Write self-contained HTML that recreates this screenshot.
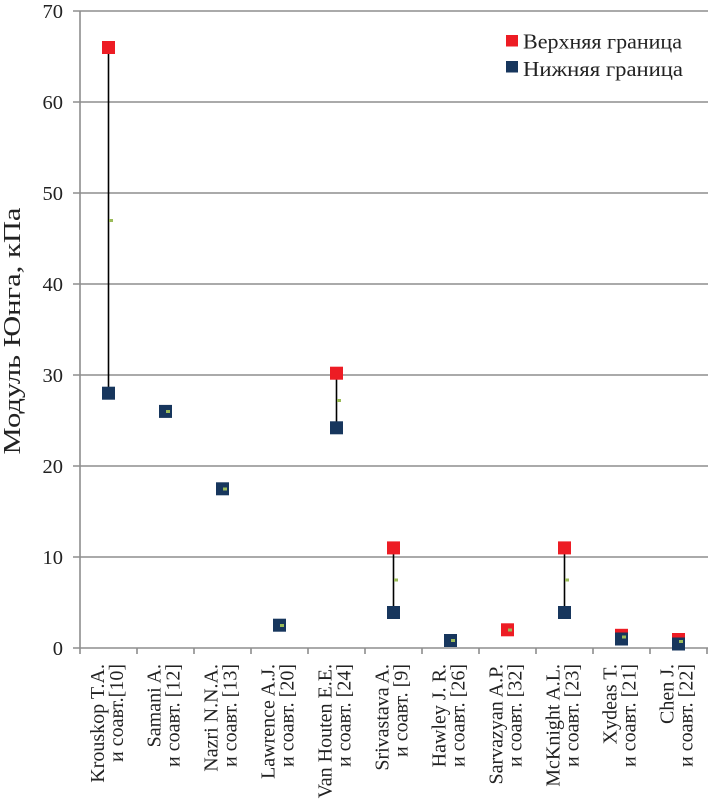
<!DOCTYPE html>
<html><head><meta charset="utf-8"><style>
html,body{margin:0;padding:0;background:#fff;}
svg{display:block;}
text{font-family:"Liberation Serif",serif;}
</style></head><body>
<svg width="709" height="800" viewBox="0 0 709 800" xmlns="http://www.w3.org/2000/svg" font-family="Liberation Serif, serif">
<g stroke="#8e8e8e" stroke-width="1.6" fill="none">
<line x1="73" y1="11" x2="708" y2="11"/>
<line x1="73" y1="102" x2="708" y2="102"/>
<line x1="73" y1="193" x2="708" y2="193"/>
<line x1="73" y1="284" x2="708" y2="284"/>
<line x1="73" y1="375" x2="708" y2="375"/>
<line x1="73" y1="466" x2="708" y2="466"/>
<line x1="73" y1="557" x2="708" y2="557"/>
<line x1="73" y1="648" x2="708" y2="648"/>
<line x1="80" y1="11" x2="80" y2="654"/>
<line x1="137" y1="648" x2="137" y2="654"/>
<line x1="194" y1="648" x2="194" y2="654"/>
<line x1="251" y1="648" x2="251" y2="654"/>
<line x1="308" y1="648" x2="308" y2="654"/>
<line x1="365" y1="648" x2="365" y2="654"/>
<line x1="422" y1="648" x2="422" y2="654"/>
<line x1="479" y1="648" x2="479" y2="654"/>
<line x1="536" y1="648" x2="536" y2="654"/>
<line x1="593" y1="648" x2="593" y2="654"/>
<line x1="650" y1="648" x2="650" y2="654"/>
<line x1="707" y1="648" x2="707" y2="654"/>
</g>
<g font-size="20.5" fill="#222" text-anchor="end" font-family="Liberation Serif, serif">
<text x="63" y="18">70</text>
<text x="63" y="109">60</text>
<text x="63" y="200">50</text>
<text x="63" y="291">40</text>
<text x="63" y="382">30</text>
<text x="63" y="473">20</text>
<text x="63" y="564">10</text>
<text x="63" y="655">0</text>
</g>
<text transform="translate(20,331) rotate(-90)" text-anchor="middle" font-size="24" fill="#222" font-family="Liberation Serif, serif" textLength="247" lengthAdjust="spacingAndGlyphs">Модуль Юнга, кПа</text>
<g stroke="#000" stroke-width="1.6">
<line x1="108.5" y1="47.4" x2="108.5" y2="393.2"/>
<line x1="336.5" y1="373.2" x2="336.5" y2="427.8"/>
<line x1="393.5" y1="547.9" x2="393.5" y2="612.5"/>
<line x1="564.5" y1="547.9" x2="564.5" y2="612.5"/>
<line x1="621.5" y1="635.3" x2="621.5" y2="639"/>
<line x1="678.5" y1="639.5" x2="678.5" y2="644"/>
</g>
<g fill="#ed1c24">
<rect x="102" y="41" width="13" height="13"/>
<rect x="330" y="366.7" width="13" height="13"/>
<rect x="387" y="541.4" width="13" height="13"/>
<rect x="501" y="623.3" width="13" height="13"/>
<rect x="558" y="541.4" width="13" height="13"/>
<rect x="615" y="628.8" width="13" height="13"/>
<rect x="672" y="633" width="13" height="13"/>
</g>
<g fill="#17365d">
<rect x="102" y="386.7" width="13" height="13"/>
<rect x="159" y="404.9" width="13" height="13"/>
<rect x="216" y="482.3" width="13" height="13"/>
<rect x="273" y="618.7" width="13" height="13"/>
<rect x="330" y="421.3" width="13" height="13"/>
<rect x="387" y="606" width="13" height="13"/>
<rect x="444" y="634" width="13" height="13"/>
<rect x="558" y="606" width="13" height="13"/>
<rect x="615" y="632.5" width="13" height="13"/>
<rect x="672" y="637.5" width="13" height="13"/>
</g>
<g fill="#9bbb59">
<rect x="109" y="219" width="4" height="3"/>
<rect x="166" y="410" width="4" height="3"/>
<rect x="223" y="487.5" width="4" height="3"/>
<rect x="280" y="624" width="4" height="3"/>
<rect x="337" y="399" width="4" height="3"/>
<rect x="394" y="578.5" width="4" height="3"/>
<rect x="451" y="639" width="4" height="3"/>
<rect x="508" y="628.5" width="4" height="3"/>
<rect x="565" y="578.5" width="4" height="3"/>
<rect x="622" y="635.5" width="4" height="3"/>
<rect x="679" y="640" width="4" height="3"/>
</g>
<rect x="506" y="35" width="12" height="11.5" fill="#ed1c24"/>
<rect x="506" y="61" width="12" height="11.5" fill="#17365d"/>
<text x="523" y="48.5" font-size="21" fill="#222" font-family="Liberation Serif, serif" textLength="159" lengthAdjust="spacingAndGlyphs">Верхняя граница</text>
<text x="523" y="76" font-size="21" fill="#222" font-family="Liberation Serif, serif" textLength="160" lengthAdjust="spacingAndGlyphs">Нижняя граница</text>
<g font-size="20" fill="#222" text-anchor="end" font-family="Liberation Serif, serif">
<text transform="translate(104,664) rotate(-90)">Krouskop T.A.</text>
<text transform="translate(123,664) rotate(-90)">и соавт.[10]</text>
<text transform="translate(160.5,664) rotate(-90)">Samani A.</text>
<text transform="translate(179.5,664) rotate(-90)">и соавт. [12]</text>
<text transform="translate(217.5,664) rotate(-90)">Nazri N.N.A.</text>
<text transform="translate(236.5,664) rotate(-90)">и соавт. [13]</text>
<text transform="translate(274.5,664) rotate(-90)">Lawrence A.J.</text>
<text transform="translate(293.5,664) rotate(-90)">и соавт. [20]</text>
<text transform="translate(331.5,664) rotate(-90)">Van Houten E.E.</text>
<text transform="translate(350.5,664) rotate(-90)">и соавт. [24]</text>
<text transform="translate(388.5,664) rotate(-90)">Srivastava A.</text>
<text transform="translate(407.5,664) rotate(-90)">и соавт. [9]</text>
<text transform="translate(445.5,664) rotate(-90)">Hawley J. R.</text>
<text transform="translate(464.5,664) rotate(-90)">и соавт. [26]</text>
<text transform="translate(502.5,664) rotate(-90)">Sarvazyan A.P.</text>
<text transform="translate(521.5,664) rotate(-90)">и соавт. [32]</text>
<text transform="translate(559.5,664) rotate(-90)">McKnight A.L.</text>
<text transform="translate(578.5,664) rotate(-90)">и соавт. [23]</text>
<text transform="translate(616.5,664) rotate(-90)">Xydeas T.</text>
<text transform="translate(635.5,664) rotate(-90)">и соавт. [21]</text>
<text transform="translate(673.5,664) rotate(-90)">Chen J.</text>
<text transform="translate(692.5,664) rotate(-90)">и соавт. [22]</text>
</g>
</svg>
</body></html>
